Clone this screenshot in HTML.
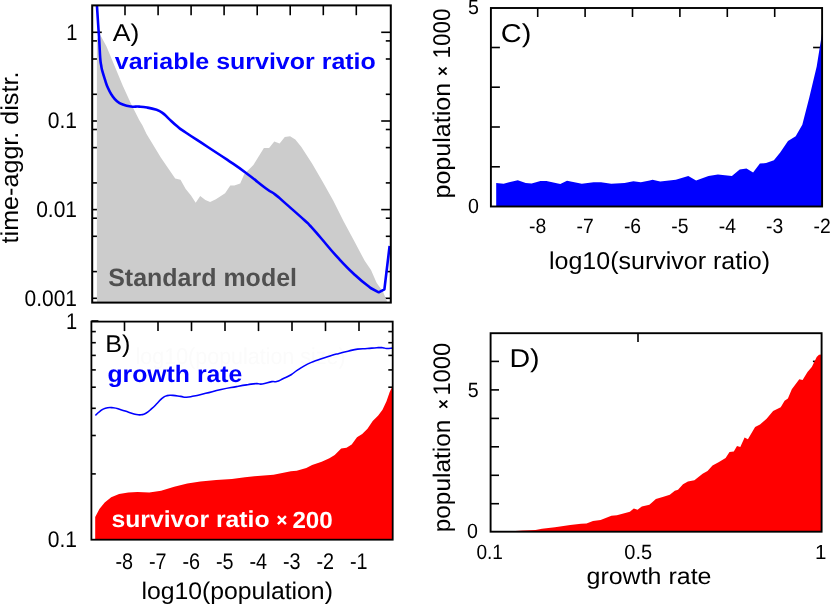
<!DOCTYPE html>
<html><head><meta charset="utf-8"><title>figure</title>
<style>html,body{margin:0;padding:0;background:#fff;}svg{display:block;will-change:transform;}text{font-family:"Liberation Sans",sans-serif;text-rendering:geometricPrecision;}</style>
</head><body>
<svg width="830" height="610" viewBox="0 0 830 610">
<rect x="0" y="0" width="830" height="610" fill="#fff"/>
<line x1="125.0" y1="5.4" x2="125.0" y2="15.2" stroke="#000" stroke-width="1.6"/>
<line x1="158.1" y1="5.4" x2="158.1" y2="15.2" stroke="#000" stroke-width="1.6"/>
<line x1="191.1" y1="5.4" x2="191.1" y2="15.2" stroke="#000" stroke-width="1.6"/>
<line x1="224.1" y1="5.4" x2="224.1" y2="15.2" stroke="#000" stroke-width="1.6"/>
<line x1="257.2" y1="5.4" x2="257.2" y2="15.2" stroke="#000" stroke-width="1.6"/>
<line x1="290.2" y1="5.4" x2="290.2" y2="15.2" stroke="#000" stroke-width="1.6"/>
<line x1="323.3" y1="5.4" x2="323.3" y2="15.2" stroke="#000" stroke-width="1.6"/>
<line x1="356.3" y1="5.4" x2="356.3" y2="15.2" stroke="#000" stroke-width="1.6"/>
<line x1="92.2" y1="32.3" x2="101.8" y2="32.3" stroke="#000" stroke-width="1.6"/>
<line x1="390.8" y1="32.3" x2="381.2" y2="32.3" stroke="#000" stroke-width="1.6"/>
<line x1="92.2" y1="40.9" x2="97.2" y2="40.9" stroke="#000" stroke-width="1.6"/>
<line x1="390.8" y1="40.9" x2="385.8" y2="40.9" stroke="#000" stroke-width="1.6"/>
<line x1="92.2" y1="59.0" x2="97.2" y2="59.0" stroke="#000" stroke-width="1.6"/>
<line x1="390.8" y1="59.0" x2="385.8" y2="59.0" stroke="#000" stroke-width="1.6"/>
<line x1="92.2" y1="94.3" x2="97.2" y2="94.3" stroke="#000" stroke-width="1.6"/>
<line x1="390.8" y1="94.3" x2="385.8" y2="94.3" stroke="#000" stroke-width="1.6"/>
<line x1="92.2" y1="121.0" x2="101.8" y2="121.0" stroke="#000" stroke-width="1.6"/>
<line x1="390.8" y1="121.0" x2="381.2" y2="121.0" stroke="#000" stroke-width="1.6"/>
<line x1="92.2" y1="129.5" x2="97.2" y2="129.5" stroke="#000" stroke-width="1.6"/>
<line x1="390.8" y1="129.5" x2="385.8" y2="129.5" stroke="#000" stroke-width="1.6"/>
<line x1="92.2" y1="147.6" x2="97.2" y2="147.6" stroke="#000" stroke-width="1.6"/>
<line x1="390.8" y1="147.6" x2="385.8" y2="147.6" stroke="#000" stroke-width="1.6"/>
<line x1="92.2" y1="182.9" x2="97.2" y2="182.9" stroke="#000" stroke-width="1.6"/>
<line x1="390.8" y1="182.9" x2="385.8" y2="182.9" stroke="#000" stroke-width="1.6"/>
<line x1="92.2" y1="209.6" x2="101.8" y2="209.6" stroke="#000" stroke-width="1.6"/>
<line x1="390.8" y1="209.6" x2="381.2" y2="209.6" stroke="#000" stroke-width="1.6"/>
<line x1="92.2" y1="218.2" x2="97.2" y2="218.2" stroke="#000" stroke-width="1.6"/>
<line x1="390.8" y1="218.2" x2="385.8" y2="218.2" stroke="#000" stroke-width="1.6"/>
<line x1="92.2" y1="236.3" x2="97.2" y2="236.3" stroke="#000" stroke-width="1.6"/>
<line x1="390.8" y1="236.3" x2="385.8" y2="236.3" stroke="#000" stroke-width="1.6"/>
<line x1="92.2" y1="271.6" x2="97.2" y2="271.6" stroke="#000" stroke-width="1.6"/>
<line x1="390.8" y1="271.6" x2="385.8" y2="271.6" stroke="#000" stroke-width="1.6"/>
<line x1="92.2" y1="298.3" x2="101.8" y2="298.3" stroke="#000" stroke-width="1.6"/>
<line x1="390.8" y1="298.3" x2="381.2" y2="298.3" stroke="#000" stroke-width="1.6"/>
<path d="M96.9 302.6 L96.9 40.0 L99.5 33.5 L106.4 46.3 L114.6 66.0 L122.8 85.7 L131.0 103.7 L139.2 120.1 L142.5 125.6 L146.4 133.8 L160.8 157.4 L175.2 178.4 L180.5 179.7 L185.7 188.9 L191.0 195.4 L195.7 202.8 L200.2 195.9 L205.4 200.1 L210.1 202.0 L215.9 199.3 L225.1 193.3 L230.3 185.4 L234.3 185.4 L240.2 183.4 L244.2 174.3 L253.4 165.1 L263.9 148.0 L269.1 148.0 L274.3 141.5 L279.6 143.6 L284.8 137.0 L290.1 136.2 L295.3 139.4 L301.2 146.7 L312.2 163.8 L322.8 182.1 L333.2 200.5 L343.7 221.5 L354.2 241.1 L364.7 260.8 L371.0 270.0 L376.7 283.0 L383.0 291.8 L386.9 301.0 L386.9 302.6Z" fill="#cccccc"/>
<path d="M96.9 5.0C97.2 10.3 97.6 15.3 98.2 25.0C98.8 34.7 98.8 32.7 99.3 41.4C99.8 50.1 99.7 51.4 100.2 57.8C100.7 64.2 100.6 62.0 101.2 65.5C101.8 69.0 101.3 67.3 102.3 70.9C103.3 74.5 103.3 74.5 104.8 79.1C106.3 83.7 106.1 83.7 108.0 88.1C109.9 92.5 109.7 92.0 112.1 95.5C114.5 99.0 114.1 98.8 117.0 101.2C119.9 103.6 119.1 103.1 122.8 104.5C126.5 105.9 126.6 105.9 131.0 106.5C135.4 107.1 134.8 106.3 139.2 106.6C143.6 106.9 143.0 106.8 147.4 107.6C151.8 108.4 151.7 108.3 155.6 109.6C159.5 110.9 158.6 110.2 162.1 112.6C165.6 115.0 164.8 115.0 168.7 118.6C172.6 122.2 172.4 122.3 176.9 126.0C181.4 129.7 177.5 126.9 185.7 132.5C193.9 138.1 196.8 139.7 207.8 147.0C218.8 154.3 216.8 152.7 227.1 159.7C237.4 166.7 236.1 165.6 246.4 173.2C256.7 180.8 258.0 182.5 265.7 188.2C273.4 193.9 270.2 190.7 275.3 194.6C280.4 198.5 277.2 196.1 284.9 202.9C292.6 209.7 297.4 213.8 304.2 220.0C311.0 226.2 306.1 221.3 310.4 226.0C314.7 230.7 312.8 228.6 320.5 237.5C328.2 246.4 329.9 249.1 339.3 259.2C348.7 269.3 347.3 267.8 355.6 275.5C363.9 283.2 366.6 284.7 370.6 288.0 L378.7 292.3 L384.4 289.3 L389.6 246" fill="none" stroke="#0000ff" stroke-width="2.6" stroke-linejoin="round"/>
<rect x="92.2" y="5.4" width="298.6" height="297.2" fill="none" stroke="#000" stroke-width="2.0"/>
<text x="77.4" y="39.6" font-size="22.6" font-weight="normal" fill="#000" text-anchor="end" textLength="11.2" lengthAdjust="spacingAndGlyphs">1</text>
<text x="77.0" y="128.3" font-size="22.6" font-weight="normal" fill="#000" text-anchor="end" textLength="29.2" lengthAdjust="spacingAndGlyphs">0.1</text>
<text x="77.0" y="217.0" font-size="22.6" font-weight="normal" fill="#000" text-anchor="end" textLength="40.8" lengthAdjust="spacingAndGlyphs">0.01</text>
<text x="77.0" y="305.8" font-size="22.6" font-weight="normal" fill="#000" text-anchor="end" textLength="52.4" lengthAdjust="spacingAndGlyphs">0.001</text>
<text x="18.2" y="243.4" font-size="24.4" font-weight="normal" fill="#000" text-anchor="start" textLength="171.8" lengthAdjust="spacingAndGlyphs" transform="rotate(-90 18.2 243.4)">time-aggr. distr.</text>
<text x="112.8" y="41.0" font-size="24.3" font-weight="normal" fill="#000" text-anchor="start" textLength="26.6" lengthAdjust="spacingAndGlyphs">A)</text>
<text x="114.8" y="69.2" font-size="22.8" font-weight="bold" fill="#0000ff" text-anchor="start" textLength="261.0" lengthAdjust="spacingAndGlyphs">variable survivor ratio</text>
<text x="108.2" y="286.0" font-size="25.0" font-weight="bold" fill="#505050" text-anchor="start" textLength="188.8" lengthAdjust="spacingAndGlyphs">Standard model</text>
<text x="135.6" y="364.3" font-size="23" font-weight="normal" fill="#fbfbfb" text-anchor="start" textLength="210.0" lengthAdjust="spacingAndGlyphs">log10(population size)</text>
<line x1="124.5" y1="321.6" x2="124.5" y2="331.1" stroke="#000" stroke-width="1.6"/>
<line x1="158.0" y1="321.6" x2="158.0" y2="331.1" stroke="#000" stroke-width="1.6"/>
<line x1="191.5" y1="321.6" x2="191.5" y2="331.1" stroke="#000" stroke-width="1.6"/>
<line x1="225.0" y1="321.6" x2="225.0" y2="331.1" stroke="#000" stroke-width="1.6"/>
<line x1="258.5" y1="321.6" x2="258.5" y2="331.1" stroke="#000" stroke-width="1.6"/>
<line x1="292.0" y1="321.6" x2="292.0" y2="331.1" stroke="#000" stroke-width="1.6"/>
<line x1="325.5" y1="321.6" x2="325.5" y2="331.1" stroke="#000" stroke-width="1.6"/>
<line x1="359.0" y1="321.6" x2="359.0" y2="331.1" stroke="#000" stroke-width="1.6"/>
<line x1="91.4" y1="331.6" x2="95.8" y2="331.6" stroke="#000" stroke-width="1.6"/>
<line x1="392.7" y1="331.6" x2="388.3" y2="331.6" stroke="#000" stroke-width="1.6"/>
<line x1="91.4" y1="342.7" x2="95.8" y2="342.7" stroke="#000" stroke-width="1.6"/>
<line x1="392.7" y1="342.7" x2="388.3" y2="342.7" stroke="#000" stroke-width="1.6"/>
<line x1="91.4" y1="355.4" x2="95.8" y2="355.4" stroke="#000" stroke-width="1.6"/>
<line x1="392.7" y1="355.4" x2="388.3" y2="355.4" stroke="#000" stroke-width="1.6"/>
<line x1="91.4" y1="369.9" x2="95.8" y2="369.9" stroke="#000" stroke-width="1.6"/>
<line x1="392.7" y1="369.9" x2="388.3" y2="369.9" stroke="#000" stroke-width="1.6"/>
<line x1="91.4" y1="387.2" x2="95.8" y2="387.2" stroke="#000" stroke-width="1.6"/>
<line x1="392.7" y1="387.2" x2="388.3" y2="387.2" stroke="#000" stroke-width="1.6"/>
<line x1="91.4" y1="408.3" x2="95.8" y2="408.3" stroke="#000" stroke-width="1.6"/>
<line x1="392.7" y1="408.3" x2="388.3" y2="408.3" stroke="#000" stroke-width="1.6"/>
<line x1="91.4" y1="435.5" x2="95.8" y2="435.5" stroke="#000" stroke-width="1.6"/>
<line x1="392.7" y1="435.5" x2="388.3" y2="435.5" stroke="#000" stroke-width="1.6"/>
<line x1="91.4" y1="473.9" x2="95.8" y2="473.9" stroke="#000" stroke-width="1.6"/>
<line x1="392.7" y1="473.9" x2="388.3" y2="473.9" stroke="#000" stroke-width="1.6"/>
<path d="M95.2 539.7 L95.2 516.9 L99.4 509.0 L104.7 502.5 L111.2 497.2 L119.1 494.1 L128.3 492.5 L137.5 492.0 L149.3 492.5 L161.1 490.7 L174.2 486.7 L187.3 483.6 L200.4 481.5 L216.2 479.9 L231.9 478.9 L245.0 477.3 L254.3 476.2 L273.5 474.7 L290.9 471.2 L296.7 470.8 L306.3 467.9 L312.1 465.0 L321.7 461.8 L329.4 458.3 L334.7 455.0 L341.2 448.4 L346.5 447.8 L351.7 444.5 L357.0 437.3 L362.2 434.0 L367.5 428.8 L372.7 420.9 L378.0 415.7 L382.5 409.8 L386.5 401.2 L389.7 392.0 L392.4 386.5 L392.4 539.7Z" fill="#ff0000"/>
<path d="M95.4 415.5C96.5 414.5 96.9 413.5 99.6 411.6C102.3 409.7 101.8 409.2 105.4 408.2C109.0 407.2 109.0 407.4 113.1 407.8C117.2 408.2 116.7 408.5 120.8 409.7C124.9 410.9 124.5 410.9 128.6 412.2C132.7 413.5 133.0 413.8 136.3 414.5C139.6 415.2 138.5 415.0 141.1 414.7C143.7 414.4 143.1 414.8 145.9 413.2C148.7 411.6 148.6 411.4 151.7 408.7C154.8 406.0 154.7 405.8 157.5 403.0C160.3 400.2 159.7 400.1 162.3 398.1C164.9 396.1 164.3 396.3 167.1 395.6C169.9 394.9 169.3 395.2 172.9 395.4C176.5 395.6 177.0 395.9 180.6 396.4C184.2 396.9 182.8 397.3 186.4 397.2C190.0 397.1 189.0 397.0 194.1 396.0C199.2 395.0 198.5 395.0 205.7 393.3C212.9 391.6 212.9 391.3 221.1 389.5C229.3 387.7 229.4 387.9 236.5 386.6C243.6 385.3 242.4 385.5 247.7 384.7C253.0 383.9 252.5 383.8 256.4 383.6C260.3 383.4 258.1 384.5 262.2 384.0C266.3 383.5 268.0 382.2 271.8 381.6C275.6 381.0 273.5 382.4 276.6 381.6C279.7 380.8 279.5 380.4 283.4 378.6C287.3 376.8 287.3 377.0 291.1 374.7C294.9 372.4 293.4 372.7 297.8 369.9C302.2 367.1 302.4 366.7 307.5 364.1C312.6 361.5 312.0 362.1 317.1 360.2C322.2 358.3 321.6 358.6 326.7 357.0C331.8 355.4 330.7 355.6 336.4 354.1C342.1 352.6 342.3 352.5 348.0 351.2C353.7 349.9 352.5 349.8 357.6 349.1C362.7 348.4 362.1 348.9 367.2 348.5C372.3 348.1 372.8 347.9 376.9 347.7C381.0 347.5 380.1 347.5 382.7 347.7C385.3 347.9 383.9 348.4 386.5 348.5C389.1 348.6 390.8 348.2 392.3 348.1" fill="none" stroke="#0000ff" stroke-width="1.6" stroke-linejoin="round"/>
<rect x="91.4" y="321.6" width="301.3" height="218.1" fill="none" stroke="#000" stroke-width="1.8"/>
<line x1="91.4" y1="321.0" x2="98.4" y2="321.0" stroke="#000" stroke-width="1.6"/>
<text x="77.2" y="328.8" font-size="22.6" font-weight="normal" fill="#000" text-anchor="end" textLength="11.2" lengthAdjust="spacingAndGlyphs">1</text>
<text x="77.0" y="547.2" font-size="22.6" font-weight="normal" fill="#000" text-anchor="end" textLength="29.2" lengthAdjust="spacingAndGlyphs">0.1</text>
<text x="124.2" y="569.2" font-size="22.6" font-weight="normal" fill="#000" text-anchor="middle" textLength="17.6" lengthAdjust="spacingAndGlyphs">-8</text>
<text x="157.7" y="569.2" font-size="22.6" font-weight="normal" fill="#000" text-anchor="middle" textLength="17.6" lengthAdjust="spacingAndGlyphs">-7</text>
<text x="191.2" y="569.2" font-size="22.6" font-weight="normal" fill="#000" text-anchor="middle" textLength="17.6" lengthAdjust="spacingAndGlyphs">-6</text>
<text x="224.7" y="569.2" font-size="22.6" font-weight="normal" fill="#000" text-anchor="middle" textLength="17.6" lengthAdjust="spacingAndGlyphs">-5</text>
<text x="258.2" y="569.2" font-size="22.6" font-weight="normal" fill="#000" text-anchor="middle" textLength="17.6" lengthAdjust="spacingAndGlyphs">-4</text>
<text x="291.7" y="569.2" font-size="22.6" font-weight="normal" fill="#000" text-anchor="middle" textLength="17.6" lengthAdjust="spacingAndGlyphs">-3</text>
<text x="325.2" y="569.2" font-size="22.6" font-weight="normal" fill="#000" text-anchor="middle" textLength="17.6" lengthAdjust="spacingAndGlyphs">-2</text>
<text x="358.7" y="569.2" font-size="22.6" font-weight="normal" fill="#000" text-anchor="middle" textLength="17.6" lengthAdjust="spacingAndGlyphs">-1</text>
<text x="141.4" y="598.6" font-size="24" font-weight="normal" fill="#000" text-anchor="start" textLength="191.5" lengthAdjust="spacingAndGlyphs">log10(population)</text>
<text x="105.2" y="352.2" font-size="24.2" font-weight="normal" fill="#000" text-anchor="start" textLength="25.2" lengthAdjust="spacingAndGlyphs">B)</text>
<text x="107.4" y="381.8" font-size="23.8" font-weight="bold" fill="#0000ff" text-anchor="start" textLength="135.0" lengthAdjust="spacingAndGlyphs">growth rate</text>
<text x="111.5" y="527.4" font-size="23.0" font-weight="bold" fill="#fff" text-anchor="start" textLength="158.0" lengthAdjust="spacingAndGlyphs">survivor ratio</text>
<path d="M277.9 516.2L285.9 524.2M277.9 524.2L285.9 516.2" stroke="#fff" stroke-width="2.4" fill="none"/>
<text x="292.4" y="527.5" font-size="23.4" font-weight="bold" fill="#fff" text-anchor="start" textLength="40.4" lengthAdjust="spacingAndGlyphs">200</text>
<line x1="537.7" y1="8.0" x2="537.7" y2="17.0" stroke="#000" stroke-width="1.6"/>
<line x1="585.1" y1="8.0" x2="585.1" y2="17.0" stroke="#000" stroke-width="1.6"/>
<line x1="632.5" y1="8.0" x2="632.5" y2="17.0" stroke="#000" stroke-width="1.6"/>
<line x1="679.9" y1="8.0" x2="679.9" y2="17.0" stroke="#000" stroke-width="1.6"/>
<line x1="727.3" y1="8.0" x2="727.3" y2="17.0" stroke="#000" stroke-width="1.6"/>
<line x1="774.7" y1="8.0" x2="774.7" y2="17.0" stroke="#000" stroke-width="1.6"/>
<line x1="490.9" y1="166.8" x2="499.9" y2="166.8" stroke="#000" stroke-width="1.6"/>
<line x1="822.1" y1="166.8" x2="813.1" y2="166.8" stroke="#000" stroke-width="1.6"/>
<line x1="490.9" y1="127.0" x2="499.9" y2="127.0" stroke="#000" stroke-width="1.6"/>
<line x1="822.1" y1="127.0" x2="813.1" y2="127.0" stroke="#000" stroke-width="1.6"/>
<line x1="490.9" y1="87.2" x2="499.9" y2="87.2" stroke="#000" stroke-width="1.6"/>
<line x1="822.1" y1="87.2" x2="813.1" y2="87.2" stroke="#000" stroke-width="1.6"/>
<line x1="490.9" y1="47.5" x2="499.9" y2="47.5" stroke="#000" stroke-width="1.6"/>
<line x1="822.1" y1="47.5" x2="813.1" y2="47.5" stroke="#000" stroke-width="1.6"/>
<path d="M496.2 206.5 L496.2 183.1 L503.6 183.7 L517.8 180.2 L525.7 183.1 L531.6 183.4 L540.5 181.0 L546.4 181.0 L560.3 184.0 L567.0 180.8 L581.8 183.7 L593.6 182.2 L601.0 182.2 L611.3 183.7 L624.6 183.1 L633.4 181.3 L640.8 182.2 L649.7 180.5 L652.5 179.8 L660.2 181.4 L675.8 179.8 L688.3 176.1 L696.1 180.5 L708.5 176.1 L717.9 174.5 L731.9 176.1 L739.7 169.6 L746.5 168.6 L753.1 172.4 L759.9 163.6 L766.1 163.0 L773.9 160.2 L780.2 152.4 L788.0 140.9 L795.7 136.2 L802.3 124.8 L809.3 97.4 L816.7 66.4 L822.0 33.4 L822.0 206.5Z" fill="#0000ff"/>
<rect x="490.9" y="8.0" width="331.2" height="198.5" fill="none" stroke="#000" stroke-width="1.9"/>
<text x="479.0" y="14.3" font-size="20.6" font-weight="normal" fill="#000" text-anchor="end" textLength="10.9" lengthAdjust="spacingAndGlyphs">5</text>
<text x="479.0" y="213.0" font-size="20.6" font-weight="normal" fill="#000" text-anchor="end" textLength="10.9" lengthAdjust="spacingAndGlyphs">0</text>
<text x="537.7" y="233.2" font-size="20.8" font-weight="normal" fill="#000" text-anchor="middle" textLength="17.2" lengthAdjust="spacingAndGlyphs">-8</text>
<text x="585.1" y="233.2" font-size="20.8" font-weight="normal" fill="#000" text-anchor="middle" textLength="17.2" lengthAdjust="spacingAndGlyphs">-7</text>
<text x="632.5" y="233.2" font-size="20.8" font-weight="normal" fill="#000" text-anchor="middle" textLength="17.2" lengthAdjust="spacingAndGlyphs">-6</text>
<text x="679.9" y="233.2" font-size="20.8" font-weight="normal" fill="#000" text-anchor="middle" textLength="17.2" lengthAdjust="spacingAndGlyphs">-5</text>
<text x="727.3" y="233.2" font-size="20.8" font-weight="normal" fill="#000" text-anchor="middle" textLength="17.2" lengthAdjust="spacingAndGlyphs">-4</text>
<text x="774.7" y="233.2" font-size="20.8" font-weight="normal" fill="#000" text-anchor="middle" textLength="17.2" lengthAdjust="spacingAndGlyphs">-3</text>
<text x="822.1" y="233.2" font-size="20.8" font-weight="normal" fill="#000" text-anchor="middle" textLength="17.2" lengthAdjust="spacingAndGlyphs">-2</text>
<text x="549.0" y="268.8" font-size="24.4" font-weight="normal" fill="#000" text-anchor="start" textLength="221.0" lengthAdjust="spacingAndGlyphs">log10(survivor ratio)</text>
<text x="500.8" y="42.4" font-size="25.8" font-weight="normal" fill="#000" text-anchor="start" textLength="30.5" lengthAdjust="spacingAndGlyphs">C)</text>
<text x="449.8" y="198.5" font-size="24.3" font-weight="normal" fill="#000" text-anchor="start" textLength="115.6" lengthAdjust="spacingAndGlyphs" transform="rotate(-90 449.8 198.5)">population</text>
<path d="M438.8 67.6L446.6 74.6M438.8 74.6L446.6 67.6" stroke="#000" stroke-width="1.9" fill="none"/>
<text x="449.8" y="58.4" font-size="24.3" font-weight="normal" fill="#000" text-anchor="start" textLength="50.0" lengthAdjust="spacingAndGlyphs" transform="rotate(-90 449.8 58.4)">1000</text>
<line x1="638.0" y1="333.2" x2="638.0" y2="341.9" stroke="#000" stroke-width="1.6"/>
<line x1="490.6" y1="503.7" x2="499.0" y2="503.7" stroke="#000" stroke-width="1.6"/>
<line x1="821.6" y1="503.7" x2="812.9" y2="503.7" stroke="#000" stroke-width="1.6"/>
<line x1="490.6" y1="475.3" x2="499.0" y2="475.3" stroke="#000" stroke-width="1.6"/>
<line x1="821.6" y1="475.3" x2="812.9" y2="475.3" stroke="#000" stroke-width="1.6"/>
<line x1="490.6" y1="446.8" x2="499.0" y2="446.8" stroke="#000" stroke-width="1.6"/>
<line x1="821.6" y1="446.8" x2="812.9" y2="446.8" stroke="#000" stroke-width="1.6"/>
<line x1="490.6" y1="418.4" x2="499.0" y2="418.4" stroke="#000" stroke-width="1.6"/>
<line x1="821.6" y1="418.4" x2="812.9" y2="418.4" stroke="#000" stroke-width="1.6"/>
<line x1="490.6" y1="389.9" x2="499.0" y2="389.9" stroke="#000" stroke-width="1.6"/>
<line x1="821.6" y1="389.9" x2="812.9" y2="389.9" stroke="#000" stroke-width="1.6"/>
<line x1="490.6" y1="361.4" x2="499.0" y2="361.4" stroke="#000" stroke-width="1.6"/>
<line x1="821.6" y1="361.4" x2="812.9" y2="361.4" stroke="#000" stroke-width="1.6"/>
<path d="M505.0 531.7 L511.7 531.2 L522.5 530.4 L535.5 530.0 L542.0 528.7 L555.0 527.2 L570.2 525.0 L581.1 523.7 L586.5 523.5 L593.0 521.1 L600.6 520.0 L611.4 515.7 L616.9 515.2 L629.9 511.8 L633.8 508.5 L637.5 509.8 L641.8 506.6 L649.4 504.8 L655.9 499.0 L663.5 496.8 L669.8 494.8 L674.8 490.8 L678.0 489.8 L683.0 484.3 L687.9 481.6 L694.4 480.3 L702.6 473.8 L707.5 471.1 L712.5 465.6 L719.0 462.0 L725.6 458.0 L729.5 452.1 L733.8 451.5 L737.0 445.9 L740.3 446.9 L744.6 437.4 L747.9 439.3 L755.1 426.9 L760.0 424.6 L766.6 418.7 L773.1 411.1 L780.7 407.2 L784.6 400.7 L787.9 398.4 L791.8 389.2 L799.3 379.3 L802.6 380.0 L807.5 372.1 L811.8 366.9 L816.7 357.0 L819.0 354.8 L821.5 354.6 L821.5 531.7Z" fill="#ff0000"/>
<rect x="490.6" y="333.2" width="331.0" height="198.5" fill="none" stroke="#000" stroke-width="1.9"/>
<text x="478.6" y="396.6" font-size="20.6" font-weight="normal" fill="#000" text-anchor="end" textLength="10.9" lengthAdjust="spacingAndGlyphs">5</text>
<text x="478.0" y="538.4" font-size="20.6" font-weight="normal" fill="#000" text-anchor="end" textLength="10.9" lengthAdjust="spacingAndGlyphs">0</text>
<text x="489.7" y="558.5" font-size="20.6" font-weight="normal" fill="#000" text-anchor="middle" textLength="26.5" lengthAdjust="spacingAndGlyphs">0.1</text>
<text x="638.2" y="558.5" font-size="20.6" font-weight="normal" fill="#000" text-anchor="middle" textLength="27.8" lengthAdjust="spacingAndGlyphs">0.5</text>
<text x="826.5" y="558.5" font-size="20.5" font-weight="normal" fill="#000" text-anchor="end">1</text>
<text x="586.5" y="583.6" font-size="23.3" font-weight="normal" fill="#000" text-anchor="start" textLength="125.0" lengthAdjust="spacingAndGlyphs">growth rate</text>
<text x="509.4" y="366.8" font-size="25.8" font-weight="normal" fill="#000" text-anchor="start" textLength="30.2" lengthAdjust="spacingAndGlyphs">D)</text>
<text x="449.8" y="532.3" font-size="24.0" font-weight="normal" fill="#000" text-anchor="start" textLength="112.7" lengthAdjust="spacingAndGlyphs" transform="rotate(-90 449.8 532.3)">population</text>
<path d="M439.5 400.6L447.3 407.6M439.5 407.6L447.3 400.6" stroke="#000" stroke-width="1.9" fill="none"/>
<text x="449.8" y="395.6" font-size="24.0" font-weight="normal" fill="#000" text-anchor="start" textLength="52.8" lengthAdjust="spacingAndGlyphs" transform="rotate(-90 449.8 395.6)">1000</text>
</svg>
</body></html>
